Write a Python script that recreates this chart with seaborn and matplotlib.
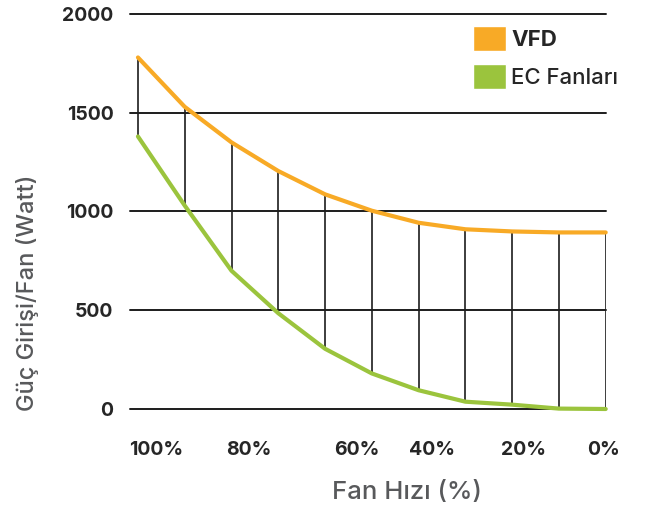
import matplotlib.pyplot as plt
import seaborn as sns
import pandas as pd
from matplotlib.patches import Patch

# values
fan_speed = [100, 90, 80, 70, 60, 50, 40, 30, 20, 10, 0]
vfd_watt = [1780, 1530, 1350, 1205, 1087, 1004, 943, 910, 899, 894, 894]
ec_watt = [1380, 1030, 700, 485, 305, 180, 95, 37, 22, 2, 0]
y_ticks = [0, 500, 1000, 1500, 2000]
x_labels = ['100%', '80%', '60%', '40%', '20%', '0%']
x_label_pos = [96.2, 76.3, 53.2, 37.1, 17.5, 0.4]

orange = '#F8AA26'
green = '#9BC43D'

sns.set_style('white')
plt.rcParams['font.family'] = ['Inter', 'DejaVu Sans']

df = pd.DataFrame({
    'speed': fan_speed * 2,
    'watt': vfd_watt + ec_watt,
    'series': ['VFD'] * len(fan_speed) + ['EC Fanları'] * len(fan_speed),
})

fig = plt.figure(figsize=(6.49, 5.16), dpi=100)
ax = fig.add_axes([130 / 649, 107 / 516, 475.7 / 649, 395 / 516])

# grid lines and the verticals between the two curves
for y in y_ticks:
    ax.axhline(y, color='#1c1c1c', lw=1.4, zorder=1, clip_on=False)
ax.vlines(fan_speed, ec_watt, vfd_watt, color='#1c1c1c', lw=1.2, zorder=1)

sns.lineplot(data=df, x='speed', y='watt', hue='series',
             palette={'VFD': orange, 'EC Fanları': green},
             linewidth=3, legend=False, ax=ax, zorder=3, clip_on=False)

ax.set_xlim(101.7, 0)
ax.set_ylim(0, 2000)
ax.set_yticks(y_ticks)
ax.set_yticklabels([str(v) for v in y_ticks], fontweight='bold', fontsize=14)
ax.set_xticks(x_label_pos)
ax.set_xticklabels(x_labels, fontweight='bold', fontsize=14)
ax.tick_params(axis='y', length=0, pad=12)
ax.tick_params(axis='x', length=0, pad=23)
for s in ax.spines.values():
    s.set_visible(False)
ax.set_xlabel('')
ax.set_ylabel('')

fig.text(28 / 649, 1 - 293 / 516, 'Güç Girişi/Fan (Watt)', rotation=90,
         ha='center', va='center', fontsize=17, color='#58595b', fontweight='medium')
fig.text(407 / 649, 1 - 493 / 516, 'Fan Hızı (%)', ha='center', va='center',
         fontsize=18.5, color='#58595b', fontweight='medium')

handles = [Patch(facecolor=orange, label='VFD'),
           Patch(facecolor=green, label='EC Fanları')]
leg = ax.legend(handles=handles, loc='upper left',
                bbox_to_anchor=(473 / 649, 1 - 26 / 516), bbox_transform=fig.transFigure,
                frameon=False, borderpad=0, borderaxespad=0, fontsize=16,
                handlelength=1.49, handleheight=1.35, labelspacing=0.59, handletextpad=0.23)
leg.get_texts()[0].set_fontweight('bold')
leg.get_texts()[1].set_fontweight('medium')

fig.savefig('out.png', dpi=100)
